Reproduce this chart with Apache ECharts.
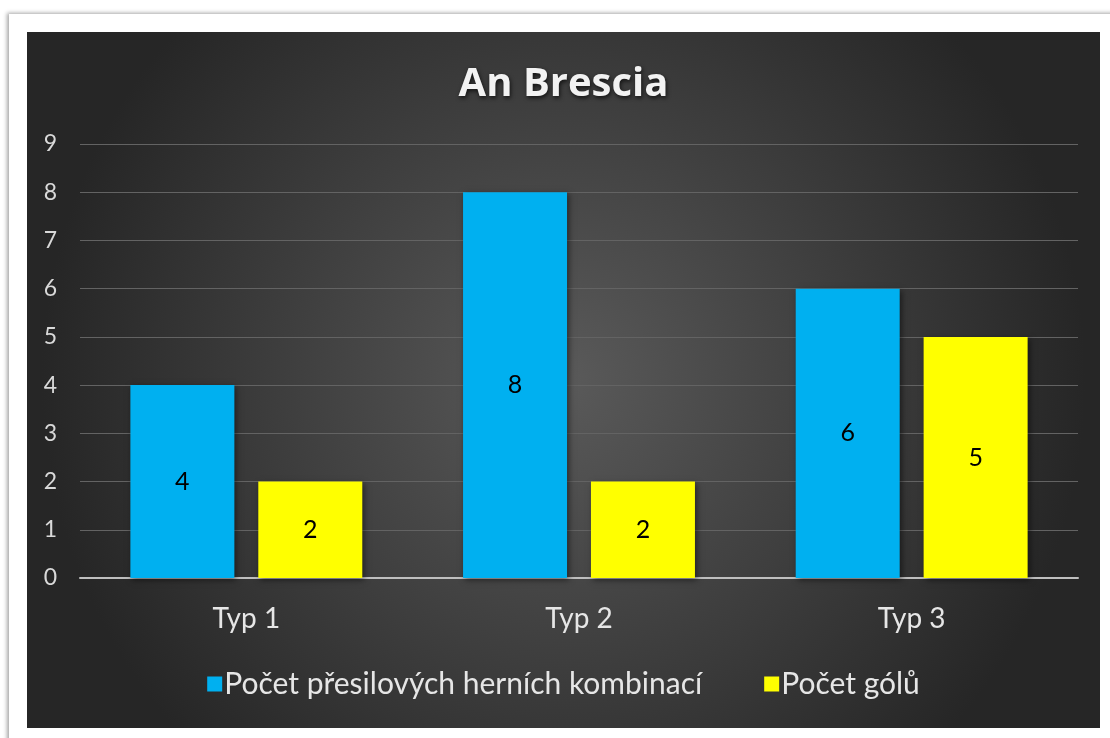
<!DOCTYPE html>
<html>
<head>
<meta charset="utf-8">
<script src="https://cdn.jsdelivr.net/npm/echarts@6/dist/echarts.min.js"></script>
<style>
	html, body { margin: 0; padding: 0; background: #ffffff; }
	#frame {
		position: absolute; left: 9px; top: 14px; width: 1110px; height: 730px;
		background: #ffffff;
		box-shadow: -2px -1px 4px rgba(0, 0, 0, 0.35);
	}
	#chart {
		position: absolute; left: 27px; top: 32px; width: 1073px; height: 696px;
	}
</style>
</head>
<body>
<div id="frame"></div>
<div id="chart"></div>
<script>
	//数据
	var categories = ['Typ 1', 'Typ 2', 'Typ 3'];
	var seriesNames = ['Počet přesilových herních kombinací', 'Počet gólů'];
	var combinations = [4, 8, 6];
	var goals = [2, 2, 5];

	var myChart = echarts.init(document.getElementById('chart'));
	var barLabel = {
		show: true,
		position: 'inside',
		color: '#000000',
		fontSize: 25,
		fontFamily: 'Lato, "Open Sans", sans-serif'
	};
	var option = {
		backgroundColor: {
			type: 'radial', x: 0.5, y: 0.5, r: 0.75,
			colorStops: [
				{ offset: 0, color: '#5a5a5a' },
				{ offset: 1, color: '#262626' }
			]
		},
		animation: false,
		title: {
			text: 'An Brescia',
			left: 'center',
			top: 28,
			textStyle: {
				color: '#f2f2f2',
				fontSize: 40,
				fontWeight: 'bold',
				fontFamily: '"Open Sans", sans-serif',
				textShadowColor: 'rgba(0,0,0,0.7)',
				textShadowBlur: 4,
				textShadowOffsetX: 1,
				textShadowOffsetY: 2
			}
		},
		legend: {
			data: seriesNames,
			bottom: 24,
			left: 'center',
			itemWidth: 15,
			itemHeight: 15,
			itemGap: 62,
			icon: 'rect',
			textStyle: {
				color: '#e6e6e6',
				fontSize: 30,
				fontFamily: 'Lato, "Open Sans", sans-serif',
				padding: [0, 0, 0, -3]
			}
		},
		grid: { left: 53, right: 22, top: 112, bottom: 150 },
		xAxis: {
			type: 'category',
			data: categories,
			axisTick: { show: false },
			axisLine: { lineStyle: { color: '#bfbfbf', width: 2 } },
			axisLabel: {
				color: '#e6e6e6',
				fontSize: 28,
				margin: 27,
				fontFamily: 'Lato, "Open Sans", sans-serif'
			}
		},
		yAxis: {
			type: 'value',
			min: 0,
			max: 9,
			interval: 1,
			axisLine: { show: false },
			axisTick: { show: false },
			axisLabel: {
				color: '#d9d9d9',
				fontSize: 23,
				margin: 23,
				fontFamily: 'Lato, "Open Sans", sans-serif'
			},
			splitLine: { lineStyle: { color: '#636363', width: 1 } }
		},
		series: [
			{
				name: seriesNames[0],
				type: 'bar',
				data: combinations,
				barWidth: 104,
				barGap: '23%',
				itemStyle: {
					color: '#00b0f0',
					shadowColor: 'rgba(0,0,0,0.5)',
					shadowBlur: 6,
					shadowOffsetX: 2,
					shadowOffsetY: 2
				},
				label: barLabel
			},
			{
				name: seriesNames[1],
				type: 'bar',
				data: goals,
				barWidth: 104,
				itemStyle: {
					color: '#ffff00',
					shadowColor: 'rgba(0,0,0,0.5)',
					shadowBlur: 6,
					shadowOffsetX: 2,
					shadowOffsetY: 2
				},
				label: barLabel
			}
		]
	};
	myChart.setOption(option);
</script>
</body>
</html>
